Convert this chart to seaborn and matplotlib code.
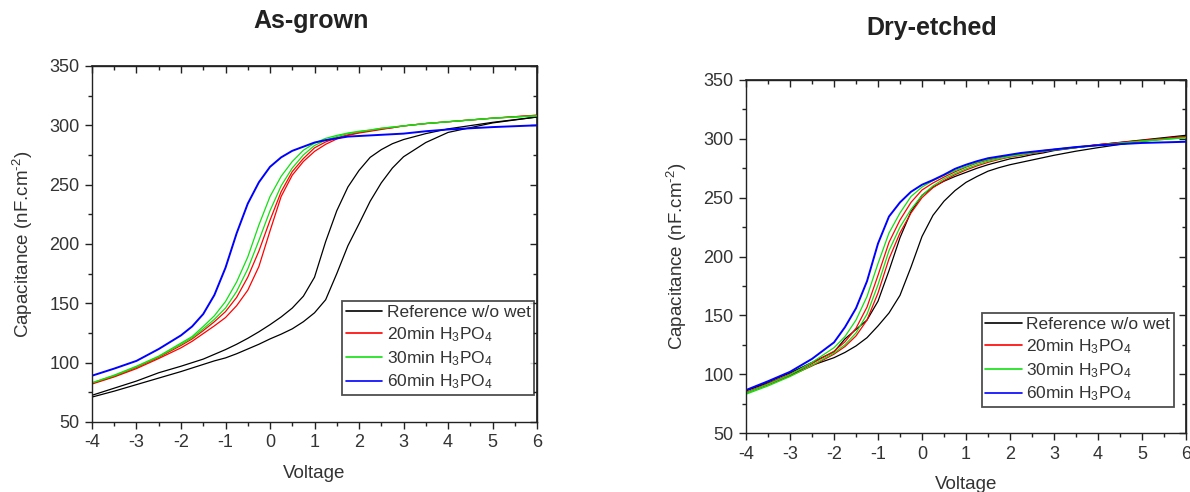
import numpy as np
import pandas as pd
import matplotlib
matplotlib.use("Agg")
import matplotlib.pyplot as plt
import seaborn as sns
from matplotlib.ticker import MultipleLocator

sns.set_theme(style="ticks")
plt.rcParams['font.family'] = ['Liberation Sans', 'DejaVu Sans']
plt.rcParams['mathtext.default'] = 'regular'
plt.rcParams['axes.unicode_minus'] = False

# voltage grid shared by every sweep branch
volts = [-4, -3.5, -3, -2.5, -2, -1.75, -1.5, -1.25, -1, -0.75, -0.5, -0.25, 0,
         0.25, 0.5, 0.75, 1, 1.25, 1.5, 1.75, 2, 2.25, 2.5, 2.75, 3, 3.5, 4, 5, 6]

# As-grown (two sweep branches per sample, 60min shows one)
ag_ref_a = [72.5, 78.5, 84.5, 91.5, 97, 100, 103, 107, 111, 115.5, 120.5, 126, 132,
            138.5, 146, 156, 172, 202, 228, 248, 262, 273, 279.5, 284.5, 288, 293, 297, 302.5, 307]
ag_ref_b = [71, 76, 81.5, 87, 92.5, 95.5, 98.5, 101.5, 104, 107.5, 111.5, 115.5, 120,
            124, 128.5, 134.5, 142, 153, 175, 198.5, 217, 236, 251.5, 264, 273.5, 285.5, 294, 302, 307]
ag_20_a = [82.5, 88.5, 96, 104.5, 114.5, 120, 127, 134.5, 143, 155, 172, 194, 220,
           244, 261, 272, 281, 286, 289.5, 292, 294, 295.5, 297, 298, 299.5, 301.5, 303, 306, 308.5]
ag_20_b = [82, 88, 95, 103.5, 112.5, 118, 124.5, 131, 138, 148, 161, 181, 211,
           240, 258, 269.5, 278, 284, 288.5, 291.5, 293.5, 295, 296.5, 298, 299.5, 301.5, 303, 306, 308.5]
ag_30_a = [83, 89.5, 97, 105.5, 116.5, 122, 130.5, 139.5, 151.5, 168, 189, 216, 240,
           257, 269.5, 279, 285, 289, 291.5, 293.5, 295, 296, 297.5, 298.5, 299.5, 301.5, 303, 306, 308]
ag_30_b = [83, 89, 96.5, 105, 115.5, 121, 128.5, 136.5, 146, 160, 179, 203, 228,
           249, 264, 275, 283, 287.5, 290.5, 293, 294.5, 296, 297.5, 298.5, 299.5, 301.5, 303, 306, 308]
ag_60 = [89, 95, 101.5, 111.5, 123, 130.5, 141, 157, 180, 209, 234, 252, 265,
         273, 278.5, 282, 285.5, 287.5, 289, 290.5, 291, 291.5, 292, 292.5, 293, 295, 296.5, 298.5, 300]

# Dry-etched
de_ref_a = [86, 93.5, 101, 110, 119, 130, 138, 146, 162, 188, 216, 238, 252,
            259, 264, 268, 271.5, 275, 278, 280.5, 283, 284.5, 286.5, 288, 290, 292.5, 295, 299, 303]
de_ref_b = [86, 92.5, 99, 107.5, 114, 118.5, 124, 131, 141, 152, 167, 191, 217,
            235, 247, 256, 263, 268, 272.5, 275.5, 278, 280, 282, 284, 286, 289.5, 292.5, 298, 302]
de_20_a = [84.5, 92, 100, 109, 119.5, 127.5, 139, 157, 184, 212, 231, 246, 256.5,
           262.5, 267.5, 272, 276, 279.5, 282, 284, 286, 287.5, 288.5, 290, 291, 293, 295, 298.5, 301.5]
de_20_b = [84, 91, 98.5, 107, 117, 123.5, 132.5, 146, 169, 198, 220, 237, 250,
           258.5, 264.5, 269.5, 273.5, 277, 280, 282.5, 284.5, 286, 287.5, 289, 290.5, 292.5, 295, 298.5, 302]
de_30_a = [84, 91.5, 99.5, 110, 122.5, 132, 146, 166, 194, 220, 237, 251, 259,
           264.5, 269, 273, 276.5, 280, 282.5, 284.5, 286, 287.5, 288.5, 289.5, 291, 293, 294.5, 298, 301]
de_30_b = [83, 90, 98, 107.5, 118, 125, 135, 151, 176, 205, 225, 240, 252,
           260, 266, 270.5, 274.5, 278, 281, 283, 285, 286.5, 288, 289.5, 290.5, 292.5, 294.5, 298, 301]
de_60 = [86.5, 94, 102, 113, 127, 140, 156, 179, 211, 234, 246, 255, 261,
         265, 269.5, 274.5, 278, 281, 283.5, 285, 286.5, 288, 289, 290, 291, 293, 294.5, 296.5, 297.5]

samples = ['Reference w/o wet', '20min H$_3$PO$_4$', '30min H$_3$PO$_4$', '60min H$_3$PO$_4$']
colors = ['#000000', '#ff0000', '#11e011', '#0000ff']


def to_long(branches):
    rows = []
    for sample, branch, vals in branches:
        for v, c in zip(volts, vals):
            rows.append((v, c, sample, branch))
    return pd.DataFrame(rows, columns=['Voltage', 'Capacitance', 'Sample', 'Branch'])


df_ag = to_long([
    (samples[0], 'a', ag_ref_a), (samples[0], 'b', ag_ref_b),
    (samples[1], 'a', ag_20_a), (samples[1], 'b', ag_20_b),
    (samples[2], 'a', ag_30_a), (samples[2], 'b', ag_30_b),
    (samples[3], 'a', ag_60),
])
df_de = to_long([
    (samples[0], 'a', de_ref_a), (samples[0], 'b', de_ref_b),
    (samples[1], 'a', de_20_a), (samples[1], 'b', de_20_b),
    (samples[2], 'a', de_30_a), (samples[2], 'b', de_30_b),
    (samples[3], 'a', de_60),
])


def style_axes(ax):
    ax.set_xlim(-4, 6)
    ax.set_ylim(50, 350)
    ax.xaxis.set_major_locator(MultipleLocator(1))
    ax.xaxis.set_minor_locator(MultipleLocator(0.5))
    ax.yaxis.set_major_locator(MultipleLocator(50))
    ax.yaxis.set_minor_locator(MultipleLocator(25))
    ax.tick_params(which='both', direction='out', color='#222222', width=1,
                   labelsize=13, labelcolor='#333333', right=False, top=False)
    ax.tick_params(which='major', length=5, pad=4)
    ax.tick_params(which='minor', length=3)
    for s in ax.spines.values():
        s.set_color('#222222')
        s.set_linewidth(1)
    # mirrored inward ticks on top and right, Origin style
    top = ax.secondary_xaxis('top')
    top.xaxis.set_major_locator(MultipleLocator(1))
    top.xaxis.set_minor_locator(MultipleLocator(0.5))
    top.tick_params(which='both', direction='in', color='#222222', width=1, labeltop=False)
    top.tick_params(which='major', length=5)
    top.tick_params(which='minor', length=3)
    right = ax.secondary_yaxis('right')
    right.yaxis.set_major_locator(MultipleLocator(50))
    right.yaxis.set_minor_locator(MultipleLocator(25))
    right.tick_params(which='both', direction='in', color='#222222', width=1, labelright=False)
    right.tick_params(which='major', length=5)
    right.tick_params(which='minor', length=3)
    ax.set_xlabel('Voltage', fontsize=13.5, color='#333333', labelpad=10)
    ax.set_ylabel('Capacitance (nF.cm$^{\u2010 2}$)', fontsize=13.5, color='#333333', labelpad=10)


fig = plt.figure(figsize=(11.9, 4.92), dpi=100)
ax1 = fig.add_axes([0.0773, 0.1423, 0.374, 0.7236])
ax2 = fig.add_axes([0.6269, 0.1199, 0.3697, 0.7175])

for ax, df, anchor in [(ax1, df_ag, (0.993, 0.076)), (ax2, df_de, (0.972, 0.074))]:
    sns.lineplot(data=df, x='Voltage', y='Capacitance', hue='Sample', hue_order=samples,
                 palette=colors, units='Branch', estimator=None, sort=False,
                 linewidth=0.9, ax=ax)
    for line in ax.lines:
        if line.get_color() == '#0000ff':
            line.set_linewidth(1.4)
    style_axes(ax)
    old = ax.get_legend()
    handles = old.legend_handles
    labels = [t.get_text() for t in old.texts]
    leg = ax.legend(handles, labels, loc='lower right', bbox_to_anchor=anchor,
                    fontsize=12.5, frameon=True, fancybox=False, edgecolor='#222222',
                    handlelength=2.1, handletextpad=0.25, borderpad=0.2,
                    labelspacing=0.3, borderaxespad=0)
    leg.get_frame().set_linewidth(1.3)
    for t in leg.get_texts():
        t.set_color('#333333')
    for h in leg.legend_handles:
        h.set_linewidth(1.2)

fig.text(0.261, 0.957, 'As-grown', ha='center', va='center', fontsize=18, fontweight='bold', color='#222222')
fig.text(0.783, 0.943, 'Dry-etched', ha='center', va='center', fontsize=18, fontweight='bold', color='#222222')

fig.savefig('out.png', dpi=100)
